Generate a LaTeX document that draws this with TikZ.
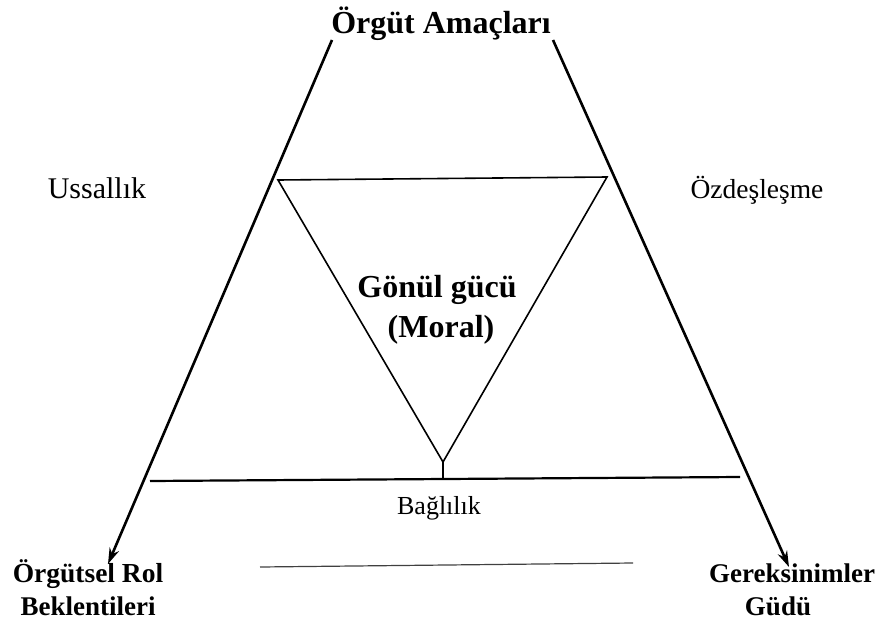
\documentclass[tikz,border=0pt]{standalone}
\usepackage{fontspec}
\setmainfont{Liberation Serif}
\usetikzlibrary{arrows.meta}
\tikzset{
  mainarrow/.style={line width=2.6pt,-{Stealth[length=16pt,width=10pt]}},
  thinline/.style={line width=1.6pt},
  base/.style={line width=2.2pt},
  txt/.style={inner sep=0pt, anchor=base},
}
\begin{document}
\begin{tikzpicture}[x=1pt,y=-1pt]
\useasboundingbox (0,0) rectangle (881,624);
% text
\node[txt,font=\fontsize{32}{36}\selectfont\bfseries] (title) at (441,33) {Örgüt Amaçları};
\node[txt,font=\fontsize{30}{34}\selectfont] (uss) at (97,198) {Ussallık};
\node[txt,font=\fontsize{27.5}{32}\selectfont] (ozd) at (757,198) {Özdeşleşme};
\node[txt,font=\fontsize{32}{36}\selectfont\bfseries] (gon) at (437,297) {Gönül gücü};
\node[txt,font=\fontsize{32}{36}\selectfont\bfseries] (mor) at (441,337) {(Moral)};
\node[txt,font=\fontsize{26}{30}\selectfont] (bag) at (439,514) {Bağlılık};
\node[txt,font=\fontsize{27.5}{32}\selectfont\bfseries] (org1) at (88,582) {Örgütsel Rol};
\node[txt,font=\fontsize{27}{32}\selectfont\bfseries] (org2) at (88,615) {Beklentileri};
\node[txt,font=\fontsize{27}{32}\selectfont\bfseries] (ger1) at (792,582) {Gereksinimler};
\node[txt,font=\fontsize{27}{32}\selectfont\bfseries] (ger2) at (778,615) {Güdü};
% coordinates
\coordinate (lt) at (332,40);
\coordinate (lb) at (108,564);
\coordinate (rt) at (553,40);
\coordinate (rb) at (789,567);
\coordinate (hl) at (150,481);
\coordinate (hr) at (740,477);
\coordinate (ta) at (278,180);
\coordinate (tb) at (607,177);
\coordinate (tc) at (443,462);
\coordinate (ts) at (443,479);
\coordinate (bl) at (260,567);
\coordinate (br) at (633,563);
% lines
\draw[mainarrow] (lt) -- (lb);
\draw[mainarrow] (rt) -- (rb);
\draw[base] (hl) -- (hr);
\draw[thinline] (ta) -- (tb) -- (tc) -- cycle;
\draw[thinline] (tc) -- (ts);
\draw[line width=1.2pt, black!75] (bl) -- (br);
\end{tikzpicture}
\end{document}
